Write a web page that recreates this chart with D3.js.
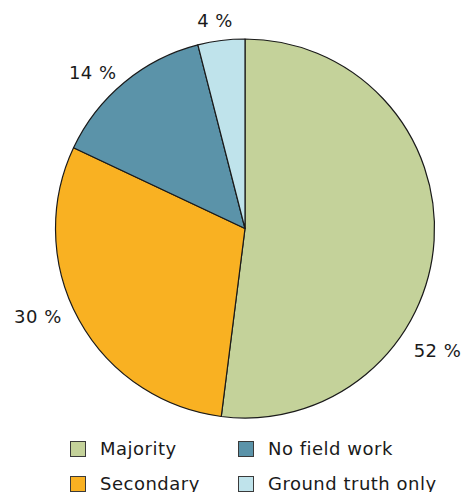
<!DOCTYPE html>
<html>
<head>
<meta charset="utf-8">
<script src="https://cdn.jsdelivr.net/npm/d3@7"></script>
<style>
html, body { margin: 0; padding: 0; background: #fff; }
svg { display: block; }
text { font-family: "DejaVu Sans", Verdana, sans-serif; fill: #1a1a1a; letter-spacing: 0.5px; }
</style>
</head>
<body>
<svg id="chart" width="464" height="492"></svg>
<script>
const categories = ["Majority", "Secondary", "No field work", "Ground truth only"];
const values = [52, 30, 14, 4];
const labels = ["52 %", "30 %", "14 %", "4 %"];
const colors = ["#c4d29a", "#f9b122", "#5b93a9", "#bfe3eb"];
const legendOrder = ["Majority", "No field work", "Secondary", "Ground truth only"];

const svg = d3.select("#chart");
const cx = 245, cy = 228.5, r = 189.5;

const data = categories.map((c, i) => ({ cat: c, value: values[i], label: labels[i], color: colors[i] }));

const pie = d3.pie().sort(null).value(d => d.value);
const arcs = pie(data);
const arc = d3.arc().innerRadius(0).outerRadius(r);

const g = svg.append("g").attr("transform", `translate(${cx},${cy})`);

g.selectAll("path.slice")
  .data(arcs)
  .enter().append("path")
  .attr("class", "slice")
  .attr("d", arc)
  .attr("fill", d => d.data.color)
  .attr("stroke", "#1a1a1a")
  .attr("stroke-width", 1.2)
  .attr("stroke-linejoin", "round");

// label placement: angle offsets (degrees) and radii tuned per label
const labelAdjust = [
  { dAng: 28.8, rad: 228 },
  { dAng: 5.8, rad: 225 },
  { dAng: -4.7, rad: 218 },
  { dAng: -1.0, rad: 210 }
];
g.selectAll("text.lbl")
  .data(arcs)
  .enter().append("text")
  .attr("class", "lbl")
  .attr("text-anchor", "middle")
  .attr("dominant-baseline", "central")
  .attr("font-size", 18)
  .attr("x", (d, i) => {
    const a = (d.startAngle + d.endAngle) / 2 + labelAdjust[i].dAng * Math.PI / 180;
    return Math.sin(a) * labelAdjust[i].rad;
  })
  .attr("y", (d, i) => {
    const a = (d.startAngle + d.endAngle) / 2 + labelAdjust[i].dAng * Math.PI / 180;
    return -Math.cos(a) * labelAdjust[i].rad;
  })
  .text(d => d.data.label);

// legend
const colX = d3.scaleOrdinal().domain([0, 1]).range([70.5, 238.5]);
const rowY = d3.scaleOrdinal().domain([0, 1]).range([441.5, 476.5]);
const legend = svg.append("g");
legendOrder.forEach((name, k) => {
  const i = categories.indexOf(name);
  const col = k % 2, row = Math.floor(k / 2);
  const x = colX(col), y = rowY(row);
  legend.append("rect")
    .attr("x", x).attr("y", y)
    .attr("width", 15).attr("height", 15)
    .attr("fill", colors[i])
    .attr("stroke", "#3a3a3a").attr("stroke-width", 1);
  legend.append("text")
    .attr("x", x + 29.5).attr("y", y + 13)
    .attr("font-size", 18)
    .text(name);
});
</script>
</body>
</html>
